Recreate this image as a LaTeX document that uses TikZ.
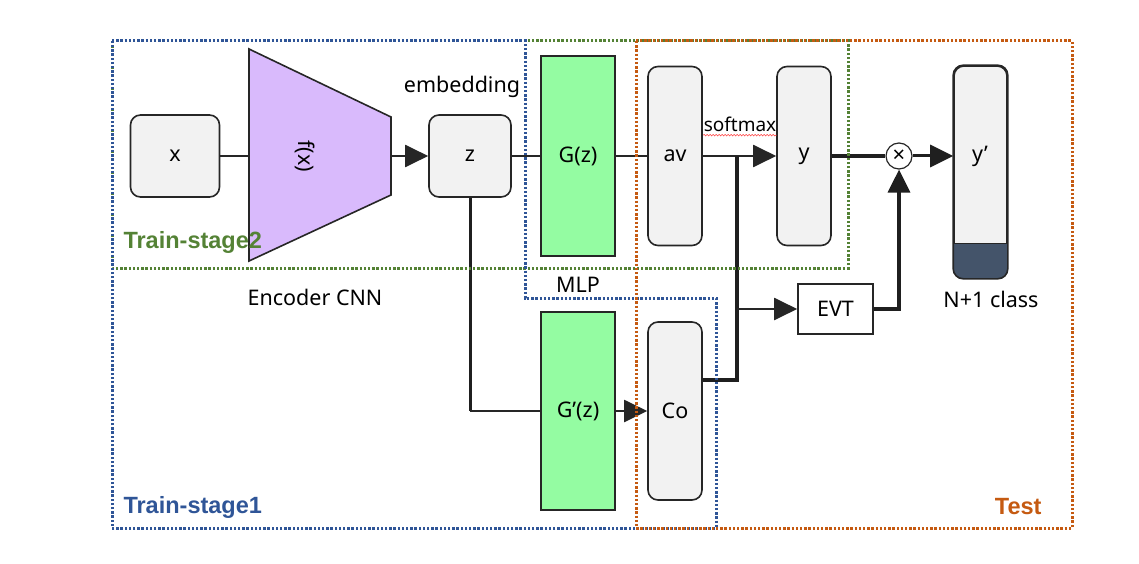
\documentclass[tikz,border=0pt]{standalone}
\usepackage{fontspec}
\setmainfont{Noto Sans}
\newfontfamily\regionfont{Liberation Sans}
\usetikzlibrary{arrows.meta, positioning, calc, decorations.pathmorphing}

\begin{document}
\begin{tikzpicture}[
    x=1pt, y=-1pt,
    font=\fontsize{21.5}{26}\selectfont,
    box/.style={draw=linegray, line width=1.6pt, fill=boxgray, rounded corners=10pt, inner sep=0pt},
    mlpbox/.style={draw=linegray, line width=1.6pt, fill=mlpgreen, inner sep=0pt},
    thinline/.style={draw=linegray, line width=2pt},
    thickline/.style={draw=black!88, line width=3.4pt},
    arr/.style={-{Triangle[length=23pt, width=22pt]}},
    region/.style={line width=3pt, dash pattern=on 2.4pt off 1.8pt},
    regionlabel/.style={font=\regionfont\fontsize{23.5}{28}\selectfont\bfseries}
]
% Define colors
\definecolor{boxgray}{RGB}{242,242,242}
\definecolor{linegray}{RGB}{38,38,38}
\definecolor{fxpurple}{RGB}{217,186,252}
\definecolor{mlpgreen}{RGB}{148,252,162}
\definecolor{darkband}{RGB}{68,84,106}
\definecolor{stagetwo}{RGB}{84,130,53}
\definecolor{stageone}{RGB}{47,85,151}
\definecolor{testc}{RGB}{197,90,17}

% Row positions
\def\rowA{156}   % main path
\def\rowB{411}   % confidence path

\useasboundingbox (0,0) rectangle (1139,564);

% Input and encoder
\node[box, minimum width=89, minimum height=82] (x) at (175,\rowA) {x};
\filldraw[fill=fxpurple, draw=linegray, line width=1.6pt]
    (249,49) -- (391,117) -- (391,195) -- (249,261) -- cycle;
\coordinate (fin) at (249,\rowA);
\coordinate (fout) at (391,\rowA);
\node[rotate=-90] (fx) at (305,\rowA) {f(x)};
\node (enc) at (315,297) {Encoder CNN};

% Embedding
\node[box, minimum width=82, minimum height=82] (z) at (470,\rowA) {z};
\node (emb) at (462,87) {embedding};

% MLP heads
\node[mlpbox, minimum width=74, minimum height=200] (g) at (578,\rowA) {G(z)};
\node (mlp) at (578,285) {MLP};
\node[mlpbox, minimum width=74, minimum height=198] (gp) at (578,\rowB) {G’(z)};

% Outputs
\node[box, minimum width=54, minimum height=179] (av) at (675,\rowA) {av};
\node[box, minimum width=54, minimum height=179] (y) at (804,\rowA) {y};
\node[box, minimum width=54, minimum height=178] (co) at (675,\rowB) {Co};
\node[font=\fontsize{19}{23}\selectfont] (sm) at (740,124) {softmax};
\draw[red!80, line width=0.5pt, decorate, decoration={snake, amplitude=0.8pt, segment length=3pt}]
    ($(sm.base west)+(3,4)$) -- ($(sm.base east)+(-3,4)$);

% Unknown detection
\node[draw=linegray, line width=1.6pt, fill=white, minimum width=75, minimum height=50, inner sep=0pt] (evt) at (835.5,309) {EVT};
\node[circle, draw=linegray, line width=1.2pt, fill=white, minimum size=26, inner sep=0pt] (mul) at (899,\rowA) {\fontsize{22}{22}\selectfont ×};

% N+1 class output
\node[box, minimum width=53, minimum height=212] (yp) at (980.5,172) {};
\begin{scope}
\clip[rounded corners=10pt] (yp.north west) rectangle (yp.south east);
\fill[darkband] ($(yp.south west)+(0,-35)$) rectangle (yp.south east);
\end{scope}
\draw[linegray, line width=1.6pt, rounded corners=10pt] (yp.north west) rectangle (yp.south east);
\draw[linegray, line width=1.2pt] ($(yp.south west)+(0,-35)$) -- ($(yp.south east)+(0,-35)$);
\node (yptext) at (980,\rowA) {y’};
\node (ncls) at (991,299) {N+1 class};

% Connectors
\draw[thinline] (x) -- (fin);
\draw[thinline, arr] (fout) -- (z);
\draw[thinline] (z) -- (g);
\draw[thinline] (g) -- (av);
\draw[thinline, arr] (av) -- (y);
\draw[thickline] (y) -- (mul);
\draw[thickline, line width=3pt, arr] (mul) -- (yp.west |- mul);
\coordinate (br) at (737,\rowA);
\coordinate (brlow) at (737,380);
\draw[thickline] (co.east |- brlow) -- (brlow) -- (br);
\draw[thinline, arr] (br |- evt) -- (evt);
\draw[thickline, arr] (evt.east) -| (mul.south);
\draw[thickline, line width=3pt] (z.south) -- (z.south |- gp);
\draw[thinline] (z.south |- gp) -- (gp);
\draw[thinline, arr] (gp) -- (co);

% Training and test regions
\draw[region, stagetwo] (112,41) rectangle (848,268);
\draw[region, stageone] (112,41) -- (525,41) -- (525,298) -- (716,298) -- (716,528) -- (112,528) -- cycle;
\draw[region, testc] (636,41) rectangle (1072,528);
\node[regionlabel, text=stagetwo, anchor=west] (lbltwo) at (120,242) {Train-stage2};
\node[regionlabel, text=stageone, anchor=west] (lblone) at (120,507) {Train-stage1};
\node[regionlabel, text=testc, anchor=east] (lbltest) at (1045,507) {Test};

\end{tikzpicture}
\end{document}
